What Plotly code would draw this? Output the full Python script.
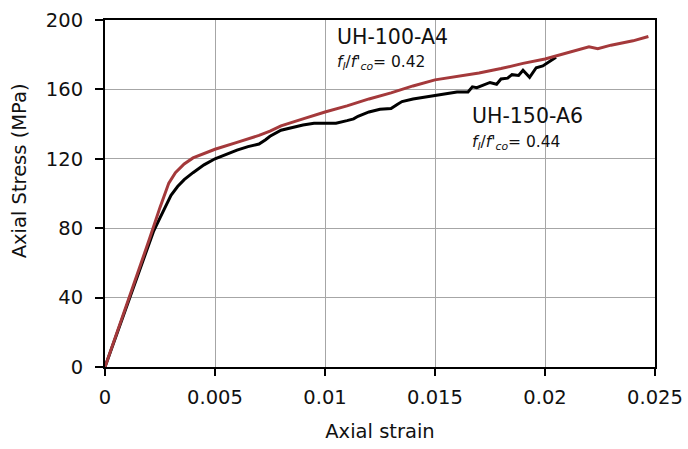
import plotly.graph_objects as go

# UH-100-A4 stress-strain curve
strain_a4 = [0, 0.0005, 0.001, 0.0015, 0.002, 0.0025, 0.0029, 0.0032, 0.0036, 0.004,
             0.0045, 0.005, 0.006, 0.007, 0.0075, 0.008, 0.009, 0.01, 0.011, 0.012,
             0.013, 0.014, 0.015, 0.016, 0.017, 0.018, 0.019, 0.02, 0.021, 0.022,
             0.0224, 0.023, 0.024, 0.0247]
stress_a4 = [0, 18, 36, 54, 73, 92, 106, 112, 117, 120.5,
             123, 125.5, 129.5, 133.5, 136, 139, 143, 147, 150.5, 154.5,
             158, 162, 165.5, 167.5, 169.5, 172, 175, 177.5, 181, 184.5,
             183.5, 185.5, 188, 190.5]

# UH-150-A6 stress-strain curve
strain_a6 = [0, 0.0005, 0.001, 0.0015, 0.002, 0.0022, 0.0025, 0.0028, 0.003, 0.0033,
             0.0036, 0.004, 0.0045, 0.005, 0.0055, 0.006, 0.0065, 0.007, 0.0073, 0.0075,
             0.008, 0.0085, 0.009, 0.0095, 0.01, 0.0105, 0.011, 0.0113, 0.0115, 0.012,
             0.0125, 0.013, 0.0133, 0.0135, 0.014, 0.0145, 0.015, 0.0155, 0.016, 0.0165,
             0.0167, 0.0169, 0.0172, 0.0175, 0.0178, 0.018, 0.0183, 0.0185, 0.0188, 0.019,
             0.0193, 0.0196, 0.0199, 0.0202, 0.0205]
stress_a6 = [0, 18, 36, 54, 71, 78, 86, 94, 99, 104,
             108, 112, 116.5, 120, 122.5, 125, 127, 128.5, 131, 133,
             136.5, 138, 139.5, 140.5, 140.5, 140.5, 142, 143, 144.5, 147,
             148.5, 149, 151.5, 153, 154.5, 155.5, 156.5, 157.5, 158.5, 158.5,
             161.5, 161, 162.5, 164, 163, 166, 166.5, 168.5, 168, 171,
             167, 172.5, 173.5, 176, 178.5]

x_ticks = [0, 0.005, 0.01, 0.015, 0.02, 0.025]
x_tick_text = ["0", "0.005", "0.01", "0.015", "0.02", "0.025"]
y_ticks = [0, 40, 80, 120, 160, 200]

fig = go.Figure()
fig.add_trace(go.Scatter(x=strain_a6, y=stress_a6, mode="lines",
                         line=dict(color="black", width=3), name="UH-150-A6"))
fig.add_trace(go.Scatter(x=strain_a4, y=stress_a4, mode="lines",
                         line=dict(color="#A4393B", width=3), name="UH-100-A4"))

font_main = "DejaVu Sans, Arial, sans-serif"
ratio_text = "<i>f<sub>l</sub></i>/<i>f'<sub>co</sub></i>= "

fig.add_annotation(x=0.01047, y=190, text="UH-100-A4", showarrow=False,
                   xanchor="left", yanchor="middle", font=dict(size=20.5, color="#111"))
fig.add_annotation(x=0.01047, y=175.5, text=ratio_text + "0.42",
                   showarrow=False, xanchor="left", yanchor="middle",
                   font=dict(size=15.5, color="#111"))
fig.add_annotation(x=0.01661, y=144.5, text="UH-150-A6", showarrow=False,
                   xanchor="left", yanchor="middle", font=dict(size=20.5, color="#111"))
fig.add_annotation(x=0.01661, y=129, text=ratio_text + "0.44",
                   showarrow=False, xanchor="left", yanchor="middle",
                   font=dict(size=15.5, color="#111"))

# y-axis title placed as rotated paper annotation
fig.add_annotation(xref="paper", yref="paper", x=-0.155, y=0.566,
                   text="Axial Stress (MPa)", textangle=-90, showarrow=False,
                   xanchor="center", yanchor="middle",
                   font=dict(size=19.5, color="#111"))

fig.update_layout(
    width=688, height=449,
    margin=dict(l=105, r=33, t=20, b=82),
    paper_bgcolor="white", plot_bgcolor="white",
    showlegend=False,
    font=dict(family=font_main, size=19.5, color="#111"),
    xaxis=dict(range=[0, 0.025], tickvals=x_ticks, ticktext=x_tick_text,
               showgrid=True, gridcolor="#a6a6a6", gridwidth=1,
               showline=True, linecolor="black", linewidth=2, mirror=True,
               ticks="outside", ticklen=7, tickwidth=2, tickcolor="black",
               ticklabelstandoff=5, automargin=False,
               zeroline=False,
               title=dict(text="Axial strain", font=dict(size=19.5), standoff=16)),
    yaxis=dict(range=[0, 200], tickvals=y_ticks,
               showgrid=True, gridcolor="#a6a6a6", gridwidth=1,
               showline=True, linecolor="black", linewidth=2, mirror=True,
               ticks="outside", ticklen=8, tickwidth=2, tickcolor="black",
               ticklabelstandoff=8, automargin=False,
               zeroline=False),
)

fig.write_html("out.html")
